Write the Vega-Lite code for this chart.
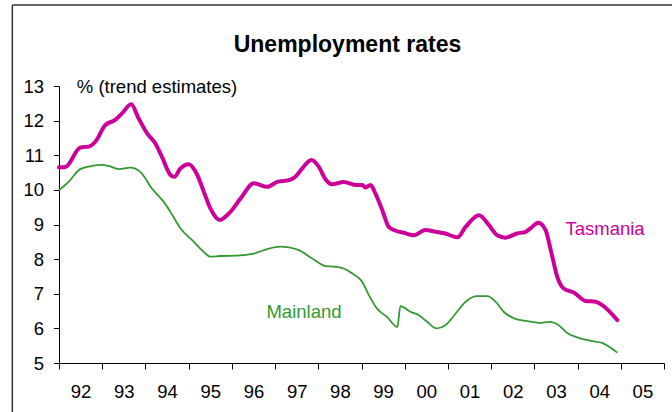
{
  "$schema": "https://vega.github.io/schema/vega-lite/v6.json",
  "autosize": {"type": "none"},
  "width": 605,
  "height": 277,
  "padding": {"left": 59, "top": 86, "right": 8, "bottom": 49},
  "background": "white",
  "config": {
    "view": {"stroke": null},
    "font": "Liberation Sans",
    "axis": {"grid": false, "domainColor": "black", "tickColor": "black", "labelColor": "black", "labelFont": "Liberation Sans", "labelFontSize": 18.5, "labelOverlap": false, "titleFont": "Liberation Sans", "domainWidth": 1, "tickWidth": 1},
    "axisY": {"labelOverlap": false, "tickCount": 9}
  },
  "datasets": {
    "tas": [
      {"year": 1992.00, "rate": 10.65}, {"year": 1992.15, "rate": 10.66}, {"year": 1992.49, "rate": 11.22}, {"year": 1992.69, "rate": 11.25},
      {"year": 1992.84, "rate": 11.39}, {"year": 1993.07, "rate": 11.87}, {"year": 1993.30, "rate": 12.02}, {"year": 1993.46, "rate": 12.21},
      {"year": 1993.67, "rate": 12.47}, {"year": 1993.84, "rate": 12.07}, {"year": 1994.04, "rate": 11.63}, {"year": 1994.23, "rate": 11.34},
      {"year": 1994.38, "rate": 10.96}, {"year": 1994.58, "rate": 10.43}, {"year": 1994.67, "rate": 10.38}, {"year": 1994.81, "rate": 10.62},
      {"year": 1995.00, "rate": 10.74}, {"year": 1995.20, "rate": 10.43}, {"year": 1995.35, "rate": 9.95}, {"year": 1995.50, "rate": 9.47},
      {"year": 1995.72, "rate": 9.13}, {"year": 1995.97, "rate": 9.37}, {"year": 1996.20, "rate": 9.75}, {"year": 1996.51, "rate": 10.19},
      {"year": 1996.82, "rate": 10.09}, {"year": 1997.05, "rate": 10.23}, {"year": 1997.32, "rate": 10.28}, {"year": 1997.47, "rate": 10.38},
      {"year": 1997.63, "rate": 10.62}, {"year": 1997.84, "rate": 10.86}, {"year": 1998.01, "rate": 10.67}, {"year": 1998.17, "rate": 10.30},
      {"year": 1998.32, "rate": 10.16}, {"year": 1998.59, "rate": 10.23}, {"year": 1998.86, "rate": 10.14}, {"year": 1999.02, "rate": 10.14},
      {"year": 1999.09, "rate": 10.07}, {"year": 1999.21, "rate": 10.14}, {"year": 1999.32, "rate": 9.90}, {"year": 1999.48, "rate": 9.42},
      {"year": 1999.63, "rate": 8.93}, {"year": 1999.79, "rate": 8.82}, {"year": 1999.98, "rate": 8.76}, {"year": 2000.21, "rate": 8.69},
      {"year": 2000.48, "rate": 8.84}, {"year": 2000.71, "rate": 8.79}, {"year": 2000.94, "rate": 8.74}, {"year": 2001.22, "rate": 8.63},
      {"year": 2001.41, "rate": 8.93}, {"year": 2001.72, "rate": 9.27}, {"year": 2001.95, "rate": 8.98}, {"year": 2002.14, "rate": 8.69},
      {"year": 2002.33, "rate": 8.62}, {"year": 2002.60, "rate": 8.74}, {"year": 2002.80, "rate": 8.79}, {"year": 2002.91, "rate": 8.89},
      {"year": 2003.09, "rate": 9.05}, {"year": 2003.26, "rate": 8.84}, {"year": 2003.38, "rate": 8.26}, {"year": 2003.53, "rate": 7.49},
      {"year": 2003.68, "rate": 7.15}, {"year": 2003.92, "rate": 7.03}, {"year": 2004.19, "rate": 6.79}, {"year": 2004.42, "rate": 6.77},
      {"year": 2004.57, "rate": 6.67}, {"year": 2004.92, "rate": 6.24}
    ],
    "main": [
      {"year": 1992.00, "rate": 9.99}, {"year": 1992.22, "rate": 10.23}, {"year": 1992.49, "rate": 10.60}, {"year": 1992.76, "rate": 10.69},
      {"year": 1993.00, "rate": 10.72}, {"year": 1993.15, "rate": 10.69}, {"year": 1993.38, "rate": 10.60}, {"year": 1993.65, "rate": 10.64},
      {"year": 1993.88, "rate": 10.52}, {"year": 1994.15, "rate": 10.04}, {"year": 1994.42, "rate": 9.66}, {"year": 1994.61, "rate": 9.30},
      {"year": 1994.81, "rate": 8.89}, {"year": 1995.12, "rate": 8.50}, {"year": 1995.35, "rate": 8.21}, {"year": 1995.50, "rate": 8.07},
      {"year": 1995.73, "rate": 8.09}, {"year": 1996.12, "rate": 8.10}, {"year": 1996.51, "rate": 8.16}, {"year": 1996.82, "rate": 8.29},
      {"year": 1997.12, "rate": 8.36}, {"year": 1997.32, "rate": 8.34}, {"year": 1997.55, "rate": 8.26}, {"year": 1997.86, "rate": 8.02},
      {"year": 1998.17, "rate": 7.80}, {"year": 1998.40, "rate": 7.78}, {"year": 1998.59, "rate": 7.73}, {"year": 1998.78, "rate": 7.59},
      {"year": 1999.02, "rate": 7.34}, {"year": 1999.17, "rate": 6.96}, {"year": 1999.36, "rate": 6.57}, {"year": 1999.59, "rate": 6.33},
      {"year": 1999.83, "rate": 6.04}, {"year": 1999.90, "rate": 6.64}, {"year": 2000.13, "rate": 6.48}, {"year": 2000.33, "rate": 6.38},
      {"year": 2000.52, "rate": 6.19}, {"year": 2000.74, "rate": 6.00}, {"year": 2000.94, "rate": 6.09}, {"year": 2001.18, "rate": 6.43},
      {"year": 2001.41, "rate": 6.77}, {"year": 2001.68, "rate": 6.93}, {"year": 2001.91, "rate": 6.93}, {"year": 2002.10, "rate": 6.77},
      {"year": 2002.29, "rate": 6.48}, {"year": 2002.53, "rate": 6.29}, {"year": 2002.84, "rate": 6.21}, {"year": 2003.10, "rate": 6.16},
      {"year": 2003.38, "rate": 6.19}, {"year": 2003.53, "rate": 6.12}, {"year": 2003.76, "rate": 5.87}, {"year": 2003.99, "rate": 5.74},
      {"year": 2004.30, "rate": 5.64}, {"year": 2004.57, "rate": 5.58}, {"year": 2004.73, "rate": 5.47}, {"year": 2004.92, "rate": 5.30}
    ],
    "labels": [
      {"label": "Tasmania", "year": 2003.72, "rate": 8.69, "series": "Tasmania"},
      {"label": "Mainland", "year": 1996.80, "rate": 6.29, "series": "Mainland"}
    ]
  },
  "layer": [
    {
      "data": {"name": "main"},
      "mark": {"type": "line", "color": "#339933", "strokeWidth": 1.8, "interpolate": "monotone"},
      "encoding": {
        "x": {"field": "year", "type": "quantitative", "scale": {"domain": [1992, 2006], "nice": false, "zero": false},
          "axis": {"values": [1992,1993,1994,1995,1996,1997,1998,1999,2000,2001,2002,2003,2004,2005,2006], "tickSize": 6, "labelPadding": 13, "labelOffset": 21.6, "labelAlign": "center", "labelFlush": false, "labelOverlap": false, "labelExpr": "datum.value >= 2006 ? '' : slice(format(datum.value, 'd'), 2)", "title": null}},
        "y": {"field": "rate", "type": "quantitative", "scale": {"domain": [5, 13], "nice": false, "zero": false},
          "axis": {"values": [5,6,7,8,9,10,11,12,13], "tickCount": 9, "tickSize": 5.5, "labelPadding": 10, "labelOverlap": false, "labelFlush": false, "labelExpr": "format(datum.value, 'd')", "title": "% (trend estimates)", "titleAngle": 0, "titleX": 17.3, "titleY": 6.5, "titleAlign": "left", "titleBaseline": "alphabetic", "titleFontWeight": "normal", "titleFontSize": 18.5, "titleColor": "black"}}
      }
    },
    {
      "data": {"name": "tas"},
      "mark": {"type": "line", "color": "#CC0099", "strokeWidth": 4, "interpolate": "monotone", "strokeCap": "round", "strokeJoin": "round"},
      "encoding": {
        "x": {"field": "year", "type": "quantitative"},
        "y": {"field": "rate", "type": "quantitative"}
      }
    },
    {
      "data": {"name": "labels"},
      "mark": {"type": "text", "align": "left", "baseline": "alphabetic", "fontSize": 18.5, "font": "Liberation Sans"},
      "encoding": {
        "x": {"field": "year", "type": "quantitative"},
        "y": {"field": "rate", "type": "quantitative"},
        "text": {"field": "label"},
        "color": {"field": "series", "type": "nominal", "scale": {"domain": ["Tasmania", "Mainland"], "range": ["#CC0099", "#339933"]}, "legend": null}
      }
    },
    {
      "data": {"values": [{"title": "Unemployment rates"}]},
      "mark": {"type": "text", "align": "center", "baseline": "alphabetic", "fontSize": 23, "fontWeight": "bold", "font": "Liberation Sans", "color": "black"},
      "encoding": {"x": {"datum": 1998.675, "type": "quantitative"}, "y": {"datum": 13.99, "type": "quantitative"}, "text": {"field": "title"}}
    },
    {
      "data": {"values": [{}]},
      "mark": {"type": "rule", "color": "#333333", "strokeWidth": 1.5, "clip": false},
      "encoding": {"x": {"datum": 1990.92, "type": "quantitative"}, "y": {"datum": 15.34, "type": "quantitative"}, "y2": {"datum": 2}}
    },
    {
      "data": {"values": [{}]},
      "mark": {"type": "rule", "color": "#333333", "strokeWidth": 1.5, "clip": false},
      "encoding": {"x": {"datum": 1990.92, "type": "quantitative"}, "x2": {"datum": 2008}, "y": {"datum": 15.34, "type": "quantitative"}}
    }
  ]
}
